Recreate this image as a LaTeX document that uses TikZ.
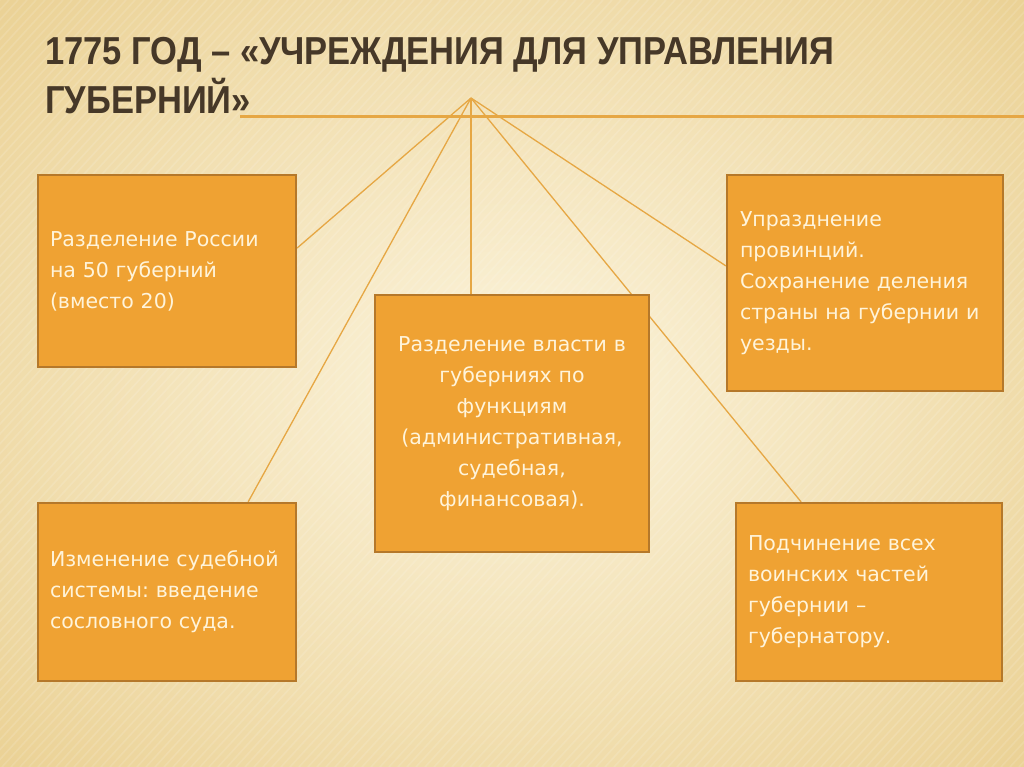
\documentclass[tikz,border=0pt]{standalone}
\usepackage{fontspec}
\setmainfont{DejaVu Sans}
\newfontfamily\titlefont{Liberation Sans}
\usetikzlibrary{calc}
\frenchspacing
\pgfdeclarelayer{back}
\pgfdeclarelayer{links}
\pgfsetlayers{back,links,main}
\definecolor{bglight}{HTML}{FCF4DC}
\definecolor{bgdark}{HTML}{EBD296}
\definecolor{boxfill}{HTML}{EFA233}
\definecolor{boxline}{HTML}{B5782A}
\definecolor{linkc}{HTML}{E6A744}
\definecolor{titlec}{HTML}{463828}
\definecolor{txtc}{HTML}{FFF4DA}
\tikzset{
  card/.style={draw=boxline, line width=2.2pt, fill=boxfill, text=txtc,
    font=\fontsize{20.5}{31}\selectfont, inner xsep=12pt, inner ysep=0pt},
  link/.style={draw=linkc, line width=1.3pt},
  ttl/.style={anchor=base west, inner sep=0pt, text=titlec,
    font=\titlefont\bfseries\fontsize{39}{39}\selectfont}
}
\begin{document}
\begin{tikzpicture}[x=1pt,y=-1pt]
\useasboundingbox (0,0) rectangle (1024,767);
% background
\begin{pgfonlayer}{back}
\shade[inner color=bglight, outer color=bgdark] (-200,-150) rectangle (1224,917);
\begin{scope}
\clip (0,0) rectangle (1024,767);
\foreach \i in {0,9,...,1900}
  \draw[white, opacity=0.13, line width=1.6pt] (\i,0) -- (\i-700,767);
\end{scope}
\end{pgfonlayer}
% title
\node[ttl] (t1) at (45,65) {\scalebox{0.885}[1]{1775 ГОД – «УЧРЕЖДЕНИЯ ДЛЯ УПРАВЛЕНИЯ}};
\node[ttl] (t2) at (45,114) {\scalebox{0.885}[1]{ГУБЕРНИЙ»}};
\coordinate (hub) at (471,98);
\coordinate (hl) at (240,117);
\coordinate (hr) at (1024,117);
% boxes
\node[card, minimum width=258pt, minimum height=192pt, text width=234pt, align=left] (b1) at (167,271)
  {Разделение России\\на 50 губерний\\(вместо 20)};
\node[card, minimum width=274pt, minimum height=257pt, text width=250pt, align=center] (b2) at (512,423.5)
  {Разделение власти в\\губерниях по\\функциям\\(административная,\\судебная,\\финансовая).};
\node[card, minimum width=274pt, minimum height=216pt, text width=250pt, align=left, inner xsep=13pt] (b3) at (865,283)
  {Упразднение\\провинций.\\Сохранение деления\\страны на губернии и\\уезды.};
\node[card, minimum width=258pt, minimum height=178pt, text width=234pt, align=left] (b4) at (167,592)
  {Изменение судебной\\системы: введение\\сословного суда.};
\node[card, minimum width=266pt, minimum height=178pt, text width=242pt, align=left] (b5) at (869,592)
  {Подчинение всех\\воинских частей\\губернии –\\губернатору.};
% connectors behind boxes
\begin{pgfonlayer}{links}
\draw[draw=linkc, line width=3pt] (hl) -- (hr);
\draw[link] (hub) -- (b1.10.5);
\draw[link] (hub) -- (b4.48.4);
\draw[link] (hub) -- (hub |- b2.north);
\draw[link] (hub) -- (b5.127);
\draw[link] (hub) -- (b3.173.7);
\end{pgfonlayer}
\end{tikzpicture}
\end{document}
